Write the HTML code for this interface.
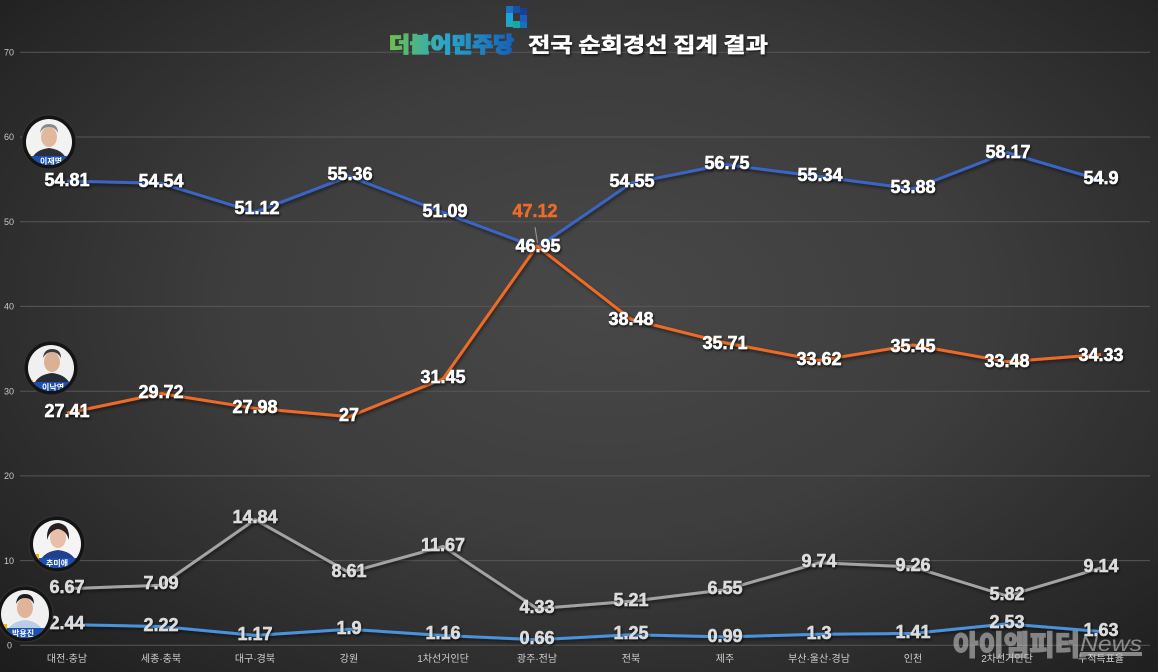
<!DOCTYPE html>
<html><head><meta charset="utf-8"><style>
html,body{margin:0;padding:0;}
body{width:1158px;height:672px;overflow:hidden;background:radial-gradient(ellipse 72% 78% at 52% 45%,#484848 0%,#3d3d3d 45%,#282828 82%,#1d1d1d 100%);}
svg{display:block;}
.ax{font-family:"Liberation Sans",sans-serif;font-size:9px;fill:#c8c8c8;}
.cat{font-family:"Liberation Sans","Noto Sans CJK KR",sans-serif;font-size:10px;fill:#cfcfcf;text-anchor:middle;}
.v{font-family:"Liberation Sans",sans-serif;font-size:18px;font-weight:bold;text-anchor:middle;dominant-baseline:central;stroke-width:0.5px;}
.w{fill:#ffffff;stroke:#ffffff;}
.g{fill:#dcdcdc;stroke:#dcdcdc;}
</style></head><body>
<svg width="1158" height="672" viewBox="0 0 1158 672" xmlns="http://www.w3.org/2000/svg">
<defs>
<filter id="sh" x="-20%" y="-30%" width="140%" height="160%"><feDropShadow dx="1" dy="1.5" stdDeviation="1.2" flood-color="#000" flood-opacity="0.75"/></filter>
<filter id="lsh" x="-5%" y="-20%" width="110%" height="140%"><feDropShadow dx="1" dy="2" stdDeviation="1.5" flood-color="#000" flood-opacity="0.5"/></filter>
<linearGradient id="pg" x1="0" y1="0" x2="1" y2="0"><stop offset="0" stop-color="#6cc04a"/><stop offset="0.45" stop-color="#2aa7c9"/><stop offset="1" stop-color="#1560b8"/></linearGradient>
<clipPath id="c1"><circle cx="49" cy="142" r="23"/></clipPath>
<clipPath id="c2"><circle cx="51" cy="368" r="23"/></clipPath>
<clipPath id="c3"><circle cx="57" cy="544" r="24"/></clipPath>
<clipPath id="c4"><circle cx="25" cy="614" r="24"/></clipPath>
</defs>

<!-- gridlines -->
<g stroke="#575757" stroke-width="1">
<line x1="20" y1="52.3" x2="1150" y2="52.3"/>
<line x1="20" y1="137" x2="1150" y2="137"/>
<line x1="20" y1="221.7" x2="1150" y2="221.7"/>
<line x1="20" y1="306.4" x2="1150" y2="306.4"/>
<line x1="20" y1="391.2" x2="1150" y2="391.2"/>
<line x1="20" y1="475.9" x2="1150" y2="475.9"/>
<line x1="20" y1="560.6" x2="1150" y2="560.6"/>
<line x1="20" y1="645.3" x2="1150" y2="645.3"/>
</g>
<g class="ax">
<text x="4" y="55.5">70</text>
<text x="4" y="140.2">60</text>
<text x="4" y="225">50</text>
<text x="4" y="309.7">40</text>
<text x="4" y="394.4">30</text>
<text x="4" y="479.1">20</text>
<text x="4" y="563.8">10</text>
<text x="7" y="648.5">0</text>
</g>

<!-- title -->
<g>
<rect x="506" y="6" width="7" height="7" fill="#1d6fc0"/>
<rect x="513" y="6" width="7" height="7" fill="#1850a8"/>
<rect x="520" y="8" width="7" height="7" fill="#1a3f96"/>
<rect x="506" y="13" width="7" height="8" fill="#1fa3dc"/>
<rect x="520" y="15" width="7" height="7" fill="#1d5fb8"/>
<rect x="506" y="21" width="7" height="6" fill="#20a8b8"/>
<rect x="513" y="21" width="7" height="7" fill="#19a6a6"/>
<rect x="520" y="22" width="7" height="6" fill="#1870c0"/>
<text x="389" y="52" font-family="'Noto Sans CJK KR',sans-serif" font-size="21" font-weight="900" fill="url(#pg)" stroke="url(#pg)" stroke-width="1.3" textLength="125" lengthAdjust="spacingAndGlyphs">더불어민주당</text>
<text x="528" y="52" font-family="'Noto Sans CJK KR',sans-serif" font-size="20.5" font-weight="bold" fill="#ffffff" stroke="#ffffff" stroke-width="0.5" filter="url(#sh)" textLength="240" lengthAdjust="spacingAndGlyphs">전국 순회경선 집계 결과</text>
</g>

<!-- lines -->
<g fill="none" stroke-width="3" stroke-linejoin="round" filter="url(#lsh)">
<polyline stroke="#3a65c4" points="67,181 161,183.3 255,212.2 349,176.3 443,212.5 537,247.6 631,183.2 725,164.5 819,176.5 913,188.9 1007,152.5 1101,180.2"/>
<polyline stroke="#ee6b26" points="67,413.1 161,393.5 255,408.3 349,416.6 443,378.9 537,246.1 631,319.3 725,342.8 819,360.5 913,345 1007,361.7 1101,354.5"/>
<polyline stroke="#a3a3a3" points="67,588.8 161,585.2 255,519.6 349,572.4 443,546.4 537,608.6 631,601.2 725,589.8 819,562.8 913,566.9 1007,596 1101,567.9"/>
<polyline stroke="#4a93dc" points="67,624.6 161,626.5 255,635.4 349,629.2 443,635.5 537,639.7 631,634.7 725,636.9 819,634.3 913,633.4 1007,623.9 1101,631.5"/>
</g>
<line x1="535" y1="227" x2="537.5" y2="243" stroke="#9a9a9a" stroke-width="1"/>

<!-- category labels -->
<g class="cat">
<text x="67" y="662">대전·충남</text>
<text x="161" y="662">세종·충북</text>
<text x="255" y="662">대구·경북</text>
<text x="349" y="662">강원</text>
<text x="443" y="662">1차선거인단</text>
<text x="537" y="662">광주·전남</text>
<text x="631" y="662">전북</text>
<text x="725" y="662">제주</text>
<text x="819" y="662">부산·울산·경남</text>
<text x="913" y="662">인천</text>
<text x="1007" y="662">2차선거인단</text>
<text x="1101" y="662">누적득표율</text>
</g>

<!-- value labels -->
<g class="v w" filter="url(#sh)">
<text x="67" y="180">54.81</text>
<text x="161" y="181">54.54</text>
<text x="257" y="208">51.12</text>
<text x="350" y="174">55.36</text>
<text x="445" y="211">51.09</text>
<text x="538" y="246">46.95</text>
<text x="632" y="181">54.55</text>
<text x="727" y="163">56.75</text>
<text x="820" y="175">55.34</text>
<text x="913" y="187">53.88</text>
<text x="1008" y="152">58.17</text>
<text x="1101" y="178">54.9</text>

<text x="67" y="411">27.41</text>
<text x="161" y="392">29.72</text>
<text x="255" y="407">27.98</text>
<text x="349" y="415">27</text>
<text x="443" y="377">31.45</text>
<text x="631" y="319">38.48</text>
<text x="725" y="343">35.71</text>
<text x="819" y="359">33.62</text>
<text x="913" y="346">35.45</text>
<text x="1007" y="361">33.48</text>
<text x="1101" y="355">34.33</text>
</g>
<text class="v" x="535" y="211" fill="#ee6b26" stroke="#ee6b26">47.12</text>

<g class="v g" filter="url(#sh)">
<text x="67" y="587">6.67</text>
<text x="161" y="583">7.09</text>
<text x="255" y="517">14.84</text>
<text x="349" y="571">8.61</text>
<text x="443" y="545">11.67</text>
<text x="537" y="607">4.33</text>
<text x="631" y="600">5.21</text>
<text x="725" y="588">6.55</text>
<text x="819" y="561">9.74</text>
<text x="913" y="565">9.26</text>
<text x="1007" y="594">5.82</text>
<text x="1101" y="566">9.14</text>

<text x="67" y="623">2.44</text>
<text x="161" y="625">2.22</text>
<text x="255" y="634">1.17</text>
<text x="349" y="628">1.9</text>
<text x="443" y="633">1.16</text>
<text x="537" y="638">0.66</text>
<text x="631" y="633">1.25</text>
<text x="725" y="636">0.99</text>
<text x="819" y="633">1.3</text>
<text x="913" y="632">1.41</text>
<text x="1007" y="622">2.53</text>
<text x="1101" y="630">1.63</text>
</g>

<!-- portraits -->
<g>
<circle cx="49" cy="142" r="27" fill="#141414" stroke="#333" stroke-width="1"/>
<g clip-path="url(#c1)">
<rect x="26" y="119" width="46" height="46" fill="#f2f2f2"/>
<ellipse cx="49" cy="137" rx="8" ry="10" fill="#e0b89c"/>
<path d="M40,133 Q41,124 49,124 Q58,124 58,133 Q55,127 49,127 Q43,127 40,133Z" fill="#8a8a8a"/>
<path d="M30,165 Q32,150 49,148 Q66,150 68,165Z" fill="#2a2f3a"/>
<rect x="26" y="156" width="46" height="10" fill="#1d4fb0"/>
<rect x="26" y="154" width="5" height="6" fill="#f2b800"/>
<text x="40" y="164" font-family="'Noto Sans CJK KR',sans-serif" font-size="8" font-weight="bold" fill="#fff">이재명</text>
</g>
<circle cx="51" cy="368" r="27" fill="#141414" stroke="#333" stroke-width="1"/>
<g clip-path="url(#c2)">
<rect x="28" y="345" width="46" height="46" fill="#f0f0f0"/>
<ellipse cx="52" cy="362" rx="8" ry="10" fill="#dcb094"/>
<path d="M43,358 Q44,349 52,349 Q61,349 61,358 Q58,352 52,352 Q46,352 43,358Z" fill="#3a3a3a"/>
<path d="M32,391 Q34,375 52,373 Q70,375 72,391Z" fill="#262b36"/>
<rect x="28" y="382" width="46" height="10" fill="#1d4fb0"/>
<rect x="28" y="380" width="5" height="6" fill="#f2b800"/>
<text x="42" y="390" font-family="'Noto Sans CJK KR',sans-serif" font-size="8" font-weight="bold" fill="#fff">이낙연</text>
</g>
<circle cx="57" cy="544" r="28" fill="#141414" stroke="#333" stroke-width="1"/>
<g clip-path="url(#c3)">
<rect x="33" y="520" width="48" height="48" fill="#f4f4f4"/>
<ellipse cx="58" cy="538" rx="8" ry="10" fill="#e8c0a8"/>
<path d="M47,540 Q46,524 58,523 Q70,524 69,540 Q66,530 58,529 Q50,530 47,540Z" fill="#2a2020"/>
<path d="M38,568 Q40,552 58,550 Q76,552 78,568Z" fill="#23408c"/>
<rect x="33" y="558" width="48" height="10" fill="#1d4fb0"/>
<rect x="33" y="554" width="6" height="7" fill="#f2b800"/>
<text x="46" y="566" font-family="'Noto Sans CJK KR',sans-serif" font-size="8" font-weight="bold" fill="#fff">추미애</text>
</g>
<circle cx="25" cy="614" r="28" fill="#141414" stroke="#333" stroke-width="1"/>
<g clip-path="url(#c4)">
<rect x="1" y="590" width="48" height="48" fill="#f0f0f0"/>
<ellipse cx="25" cy="608" rx="8" ry="10" fill="#e0b49a"/>
<path d="M16,604 Q17,594 25,594 Q34,594 34,604 Q31,598 25,598 Q19,598 16,604Z" fill="#1e1e1e"/>
<path d="M5,638 Q7,622 25,620 Q43,622 45,638Z" fill="#b8cde8"/>
<rect x="1" y="628" width="48" height="10" fill="#1d4fb0"/>
<rect x="1" y="624" width="6" height="7" fill="#f2b800"/>
<text x="12" y="636" font-family="'Noto Sans CJK KR',sans-serif" font-size="8" font-weight="bold" fill="#fff">박용진</text>
</g>
</g>

<!-- watermark -->
<g opacity="0.62">
<text x="953" y="655" font-family="'Noto Sans CJK KR',sans-serif" font-size="28" font-weight="900" fill="#bdbdbd" stroke="#bdbdbd" stroke-width="1" textLength="127" lengthAdjust="spacingAndGlyphs">아이엠피터</text>
<text x="1080" y="651" font-family="'Liberation Sans',sans-serif" font-size="21" font-style="italic" fill="#c8c8c8" textLength="62" lengthAdjust="spacingAndGlyphs">News</text>
<rect x="1080" y="652" width="62" height="4" fill="#c8c8c8"/>
</g>
</svg>
</body></html>
